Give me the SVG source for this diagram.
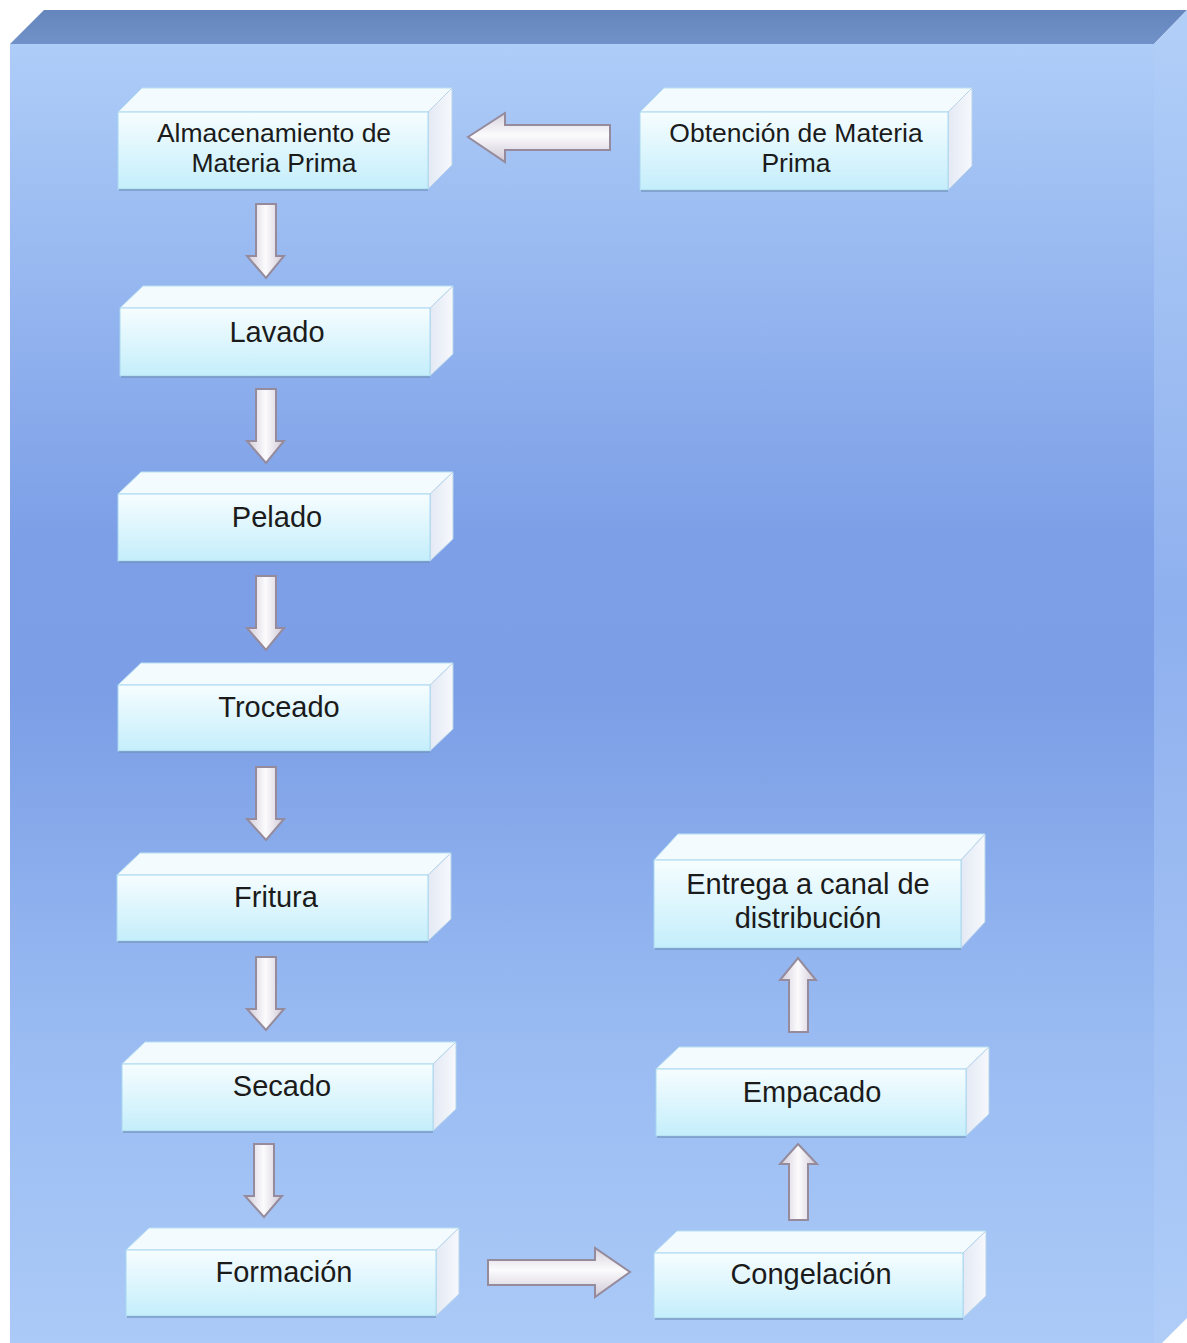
<svg xmlns="http://www.w3.org/2000/svg" width="1187" height="1343" viewBox="0 0 1187 1343">
<defs>
<linearGradient id="bg" x1="0" y1="0" x2="0" y2="1">
<stop offset="0" stop-color="#aecdf8"/>
<stop offset="0.38" stop-color="#7c9fe7"/>
<stop offset="0.5" stop-color="#7b9ee6"/>
<stop offset="0.75" stop-color="#98baf2"/>
<stop offset="1" stop-color="#abcaf7"/>
</linearGradient>
<linearGradient id="bgside" x1="0" y1="0" x2="0" y2="1">
<stop offset="0" stop-color="#b2cff8"/>
<stop offset="0.45" stop-color="#8eb0ee"/>
<stop offset="1" stop-color="#b0cdf8"/>
</linearGradient>
<linearGradient id="bgtop" x1="0" y1="0" x2="0" y2="1">
<stop offset="0" stop-color="#6585bd"/>
<stop offset="1" stop-color="#7191c9"/>
</linearGradient>
<linearGradient id="front" x1="0" y1="0" x2="0" y2="1">
<stop offset="0" stop-color="#f6fdff"/>
<stop offset="1" stop-color="#c4eefb"/>
</linearGradient>
<linearGradient id="side" x1="0" y1="0" x2="1" y2="0">
<stop offset="0" stop-color="#e3e9f4"/>
<stop offset="1" stop-color="#f6f8fc"/>
</linearGradient>
<linearGradient id="av" x1="0" y1="0" x2="1" y2="0">
<stop offset="0" stop-color="#d2cbd8"/>
<stop offset="0.5" stop-color="#fbfbfd"/>
<stop offset="1" stop-color="#cfc7d5"/>
</linearGradient>
<linearGradient id="ah" x1="0" y1="0" x2="0" y2="1">
<stop offset="0" stop-color="#d8d2dc"/>
<stop offset="0.45" stop-color="#fbfbfd"/>
<stop offset="1" stop-color="#d0c9d6"/>
</linearGradient>
</defs>
<style>
.fr{fill:url(#front);stroke:#a8d8ef;stroke-width:1}
.tp{fill:#f4fbff;stroke:#b8e0f2;stroke-width:1}
.sd{fill:url(#side);stroke:#b8d4ea;stroke-width:1}
.sh{fill:none;stroke:#6f8fb8;stroke-width:2;opacity:0.6}
.t{font-family:"Liberation Sans",Arial,sans-serif;fill:#1b1b1b;text-anchor:middle}
.t1{font-size:29px}
.t2{font-size:26.5px}
.arv{fill:url(#av);stroke:#958b9c;stroke-width:2}
.arh{fill:url(#ah);stroke:#958b9c;stroke-width:2}
</style>
<rect width="1187" height="1343" fill="#ffffff"/>
<g id="background">
<polygon points="10,44 44,10 1187,10 1154,44" fill="url(#bgtop)"/>
<rect x="10" y="44" width="1144" height="1299" fill="url(#bg)"/>
<polygon points="1154,44 1187,10 1187,1318 1162,1343 1154,1343" fill="url(#bgside)"/>
</g>
<g id="connectors">
<path class="arh" d="M610,125 L505,125 L505,113 L468,137 L505,162 L505,150 L610,150 Z"/>
<path class="arv" d="M256,204 L276,204 L276,256 L284,256 L266,278 L247,256 L256,256 Z"/>
<path class="arv" d="M256,389 L276,389 L276,441 L284,441 L266,463 L247,441 L256,441 Z"/>
<path class="arv" d="M256,576 L276,576 L276,628 L284,628 L266,650 L247,628 L256,628 Z"/>
<path class="arv" d="M256,767 L276,767 L276,819 L284,819 L266,840 L247,819 L256,819 Z"/>
<path class="arv" d="M256,957 L276,957 L276,1009 L284,1009 L266,1030 L247,1009 L256,1009 Z"/>
<path class="arv" d="M254,1144 L274,1144 L274,1196 L282,1196 L264,1217 L245,1196 L254,1196 Z"/>
<path class="arh" d="M488,1260 L595,1260 L595,1248 L630,1272 L595,1297 L595,1285 L488,1285 Z"/>
<path class="arv" d="M789,1220 L808,1220 L808,1164 L817,1164 L798,1144 L780,1164 L789,1164 Z"/>
<path class="arv" d="M789,1032 L808,1032 L808,980 L816,980 L798,958 L780,980 L789,980 Z"/>
</g>
<g id="n-almacenamiento">
<polygon class="tp" points="118,112 142,88 452,88 428,112"/>
<polygon class="sd" points="428,112 452,88 452,165 428,189"/>
<rect class="fr" x="118" y="112" width="310" height="77"/>
<line class="sh" x1="119" y1="190" x2="428" y2="190"/>
<text class="t t2" x="274" y="142">Almacenamiento de</text>
<text class="t t2" x="274" y="172">Materia Prima</text>
</g>
<g id="n-obtencion">
<polygon class="tp" points="640,112 664,88 972,88 948,112"/>
<polygon class="sd" points="948,112 972,88 972,166 948,190"/>
<rect class="fr" x="640" y="112" width="308" height="78"/>
<line class="sh" x1="641" y1="191" x2="948" y2="191"/>
<text class="t t2" x="796" y="142">Obtención de Materia</text>
<text class="t t2" x="796" y="172">Prima</text>
</g>
<g id="n-lavado">
<polygon class="tp" points="120,308 143,286 453,286 430,308"/>
<polygon class="sd" points="430,308 453,286 453,354 430,376"/>
<rect class="fr" x="120" y="308" width="310" height="68"/>
<line class="sh" x1="121" y1="377" x2="430" y2="377"/>
<text class="t t1" x="277" y="342">Lavado</text>
</g>
<g id="n-pelado">
<polygon class="tp" points="118,494 141,472 453,472 430,494"/>
<polygon class="sd" points="430,494 453,472 453,539 430,561"/>
<rect class="fr" x="118" y="494" width="312" height="67"/>
<line class="sh" x1="119" y1="562" x2="430" y2="562"/>
<text class="t t1" x="277" y="527">Pelado</text>
</g>
<g id="n-troceado">
<polygon class="tp" points="118,685 141,663 453,663 430,685"/>
<polygon class="sd" points="430,685 453,663 453,729 430,751"/>
<rect class="fr" x="118" y="685" width="312" height="66"/>
<line class="sh" x1="119" y1="752" x2="430" y2="752"/>
<text class="t t1" x="279" y="717">Troceado</text>
</g>
<g id="n-fritura">
<polygon class="tp" points="117,875 140,853 451,853 428,875"/>
<polygon class="sd" points="428,875 451,853 451,919 428,941"/>
<rect class="fr" x="117" y="875" width="311" height="66"/>
<line class="sh" x1="118" y1="942" x2="428" y2="942"/>
<text class="t t1" x="276" y="907">Fritura</text>
</g>
<g id="n-secado">
<polygon class="tp" points="122,1064 145,1042 456,1042 433,1064"/>
<polygon class="sd" points="433,1064 456,1042 456,1109 433,1131"/>
<rect class="fr" x="122" y="1064" width="311" height="67"/>
<line class="sh" x1="123" y1="1132" x2="433" y2="1132"/>
<text class="t t1" x="282" y="1096">Secado</text>
</g>
<g id="n-formacion">
<polygon class="tp" points="126,1250 149,1228 459,1228 436,1250"/>
<polygon class="sd" points="436,1250 459,1228 459,1294 436,1316"/>
<rect class="fr" x="126" y="1250" width="310" height="66"/>
<line class="sh" x1="127" y1="1317" x2="436" y2="1317"/>
<text class="t t1" x="284" y="1282">Formación</text>
</g>
<g id="n-congelacion">
<polygon class="tp" points="654,1253 677,1231 986,1231 963,1253"/>
<polygon class="sd" points="963,1253 986,1231 986,1296 963,1318"/>
<rect class="fr" x="654" y="1253" width="309" height="65"/>
<line class="sh" x1="655" y1="1319" x2="963" y2="1319"/>
<text class="t t1" x="811" y="1284">Congelación</text>
</g>
<g id="n-empacado">
<polygon class="tp" points="656,1069 679,1047 989,1047 966,1069"/>
<polygon class="sd" points="966,1069 989,1047 989,1114 966,1136"/>
<rect class="fr" x="656" y="1069" width="310" height="67"/>
<line class="sh" x1="657" y1="1137" x2="966" y2="1137"/>
<text class="t t1" x="812" y="1102">Empacado</text>
</g>
<g id="n-entrega">
<polygon class="tp" points="654,860 678,834 985,834 961,860"/>
<polygon class="sd" points="961,860 985,834 985,922 961,948"/>
<rect class="fr" x="654" y="860" width="307" height="88"/>
<line class="sh" x1="655" y1="949" x2="961" y2="949"/>
<text class="t t1" x="808" y="894">Entrega a canal de</text>
<text class="t t1" x="808" y="928">distribución</text>
</g>
</svg>
